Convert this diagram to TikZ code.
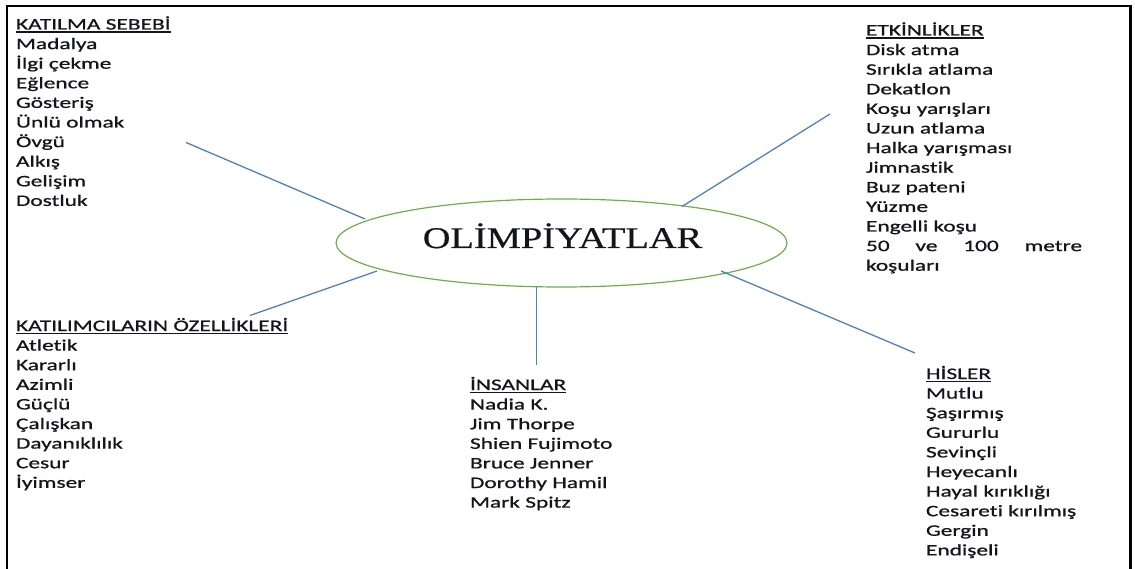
\documentclass[tikz,border=0pt]{standalone}
\usepackage{fontspec}
\usetikzlibrary{shapes.geometric}
\newfontfamily\bodyfont[FakeStretch=1.46,FakeBold=0.9,Ligatures=NoCommon]{Carlito}
\newfontfamily\titlefont[FakeStretch=1.28,FakeBold=0.6]{Liberation Serif}
\definecolor{linkblue}{RGB}{79,129,189}
\definecolor{ringgreen}{RGB}{112,173,71}
\definecolor{inkdark}{RGB}{20,20,30}
\newcommand\ulhead[1]{\leavevmode\setbox0\hbox{#1}\rlap{\rule[-3.2pt]{\wd0}{1.4pt}}\box0}
\newcommand\spreadline[2]{\leavevmode\hbox to #1{#2}}
\tikzset{
  listblock/.style={anchor=base west, inner sep=0pt, outer sep=0pt, text width=330pt, align=left,
    font=\bodyfont\fontsize{16pt}{19.6pt}\selectfont, text=inkdark},
  link/.style={draw=linkblue, line width=1.3pt},
  frameline/.style={draw=black, line width=2.2pt},
}
\begin{document}
\begin{tikzpicture}[x=1pt,y=-1pt]
\useasboundingbox (0,0) rectangle (1135,569);
% frame
\coordinate (fbl) at (7,569);
\coordinate (ftl) at (7,5.7);
\coordinate (ftr) at (1130.5,5.7);
\coordinate (fbr) at (1130.5,569);
\draw[frameline] (fbl) -- (ftl) -- (ftr) -- (fbr);
% centre
\node[ellipse, draw=ringgreen, line width=1.2pt, minimum width=451pt, minimum height=88pt, inner sep=0pt] (c) at (561.5,243) {};
\node[anchor=base, inner sep=0pt, text=inkdark, font=\titlefont\fontsize{30pt}{36pt}\selectfont] (title) at (562.5,248) {OLİMPİYATLAR};
% blocks
\node[listblock] (b1) at (16,29.5) {\ulhead{KATILMA SEBEBİ}\\Madalya\\İlgi çekme\\Eğlence\\Gösteriş\\Ünlü olmak\\Övgü\\Alkış\\Gelişim\\Dostluk};
\node[listblock] (b2) at (866,35.5) {\ulhead{ETKİNLİKLER}\\Disk atma\\Sırıkla atlama\\Dekatlon\\Koşu yarışları\\Uzun atlama\\Halka yarışması\\Jimnastik\\Buz pateni\\Yüzme\\Engelli koşu\\\spreadline{216pt}{50\hfill ve\hfill 100\hfill metre}\\koşuları};
\node[listblock] (b3) at (16,331) {\ulhead{KATILIMCILARIN ÖZELLİKLERİ}\\Atletik\\Kararlı\\Azimli\\Güçlü\\Çalışkan\\Dayanıklılık\\Cesur\\İyimser};
\node[listblock] (b4) at (470,390) {\ulhead{İNSANLAR}\\Nadia K.\\Jim Thorpe\\Shien Fujimoto\\Bruce Jenner\\Dorothy Hamil\\Mark Spitz};
\node[listblock] (b5) at (926,379) {\ulhead{HİSLER}\\Mutlu\\Şaşırmış\\Gururlu\\Sevinçli\\Heyecanlı\\Hayal kırıklığı\\Cesareti kırılmış\\Gergin\\Endişeli};
% connector ends
\coordinate (e1) at (365,219);  \coordinate (o1) at (186,142.5);
\coordinate (e2) at (682,206.5);\coordinate (o2) at (830,114);
\coordinate (e3) at (377,271);  \coordinate (o3) at (250,315.5);
\coordinate (e4) at (536.5,287);\coordinate (o4) at (536.5,365);
\coordinate (e5) at (721,271);  \coordinate (o5) at (915,353);
\draw[link] (e1) -- (o1);
\draw[link] (e2) -- (o2);
\draw[link] (e3) -- (o3);
\draw[link] (e4) -- (o4);
\draw[link] (e5) -- (o5);
\end{tikzpicture}
\end{document}
